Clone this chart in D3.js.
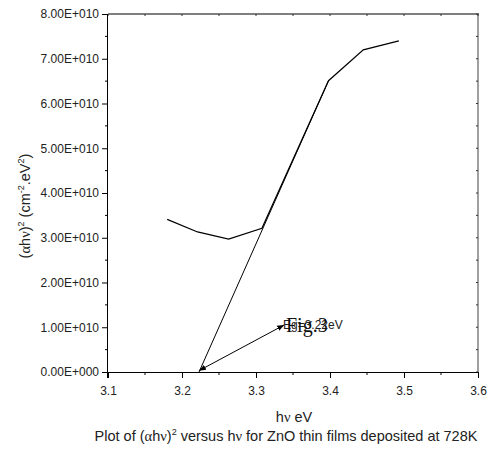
<!DOCTYPE html>
<html><head><meta charset="utf-8">
<script src="https://cdn.jsdelivr.net/npm/d3@7"></script>
<style>body{margin:0;background:#fff}svg{display:block}.tk text{font-size:12px;font-family:"Liberation Sans",Arial,sans-serif}</style>
</head><body><svg id="c" width="495" height="449" font-family="Liberation Sans, Arial, sans-serif"></svg>
<script>
const hv = [3.18, 3.221, 3.263, 3.308, 3.398, 3.445, 3.493];
const ahv2 = [3.41e10, 3.13e10, 2.97e10, 3.21e10, 6.51e10, 7.20e10, 7.40e10];
const tangentX = [3.223, 3.398];
const tangentY = [0, 6.51e10];
const arrowX = [3.223, 3.338];
const arrowY = [0.03e10, 1.05e10];
const xTicks = [3.1, 3.2, 3.3, 3.4, 3.5, 3.6];
const yTicks = [0, 1e10, 2e10, 3e10, 4e10, 5e10, 6e10, 7e10, 8e10];
const yTickLabels = ["0.00E+000","1.00E+010","2.00E+010","3.00E+010","4.00E+010","5.00E+010","6.00E+010","7.00E+010","8.00E+010"];

const svg = d3.select("#c");
const L=108, R=478, T=14, B=372;
const x = d3.scaleLinear().domain([3.1,3.6]).range([L,R]);
const y = d3.scaleLinear().domain([0,8e10]).range([B,T]);
const SERIF = "Liberation Serif, Times New Roman, serif";

// top and right frame
svg.append("line").attr("x1",L).attr("x2",R+1).attr("y1",T).attr("y2",T).attr("stroke","#555").attr("stroke-width",1.6);
svg.append("line").attr("x1",R).attr("x2",R).attr("y1",T).attr("y2",B).attr("stroke","#777").attr("stroke-width",1.4);
const minorX = d3.range(3.15,3.6,0.1);
xTicks.concat(minorX).forEach(v=>{
  svg.append("line").attr("x1",x(v)).attr("x2",x(v)).attr("y1",T).attr("y2",T+2).attr("stroke","#333");
});
const minorY = d3.range(0.5e10,8e10,1e10);
yTicks.concat(minorY).forEach(v=>{
  svg.append("line").attr("x1",R).attr("x2",R-2).attr("y1",y(v)).attr("y2",y(v)).attr("stroke","#333");
});

// bottom axis
const gx = svg.append("g").attr("class","tk").attr("transform",`translate(0,${B})`)
  .call(d3.axisBottom(x).tickValues(xTicks).tickFormat(d3.format(".1f")).tickSizeOuter(0).tickSize(6).tickPadding(8));
gx.selectAll("text").attr("fill","#222");
gx.append("g").selectAll("line").data(minorX).join("line")
  .attr("x1",d=>x(d)).attr("x2",d=>x(d)).attr("y1",0).attr("y2",3).attr("stroke","#000");
gx.select(".domain").attr("d",`M${L-6},0.5H${R}`);

// left axis
const gy = svg.append("g").attr("class","tk").attr("transform",`translate(${L},0)`)
  .call(d3.axisLeft(y).tickValues(yTicks).tickFormat((d,i)=>yTickLabels[i]).tickSizeOuter(0).tickSize(6).tickPadding(3));
gy.selectAll("text").attr("fill","#222");
gy.append("g").selectAll("line").data(minorY).join("line")
  .attr("x1",0).attr("x2",-3).attr("y1",d=>y(d)).attr("y2",d=>y(d)).attr("stroke","#000");
gy.select(".domain").attr("d",`M-0.5,${T}V${B+6}`);

// data line
svg.append("path").datum(hv.map((d,i)=>[d,ahv2[i]]))
  .attr("d",d3.line().x(d=>x(d[0])).y(d=>y(d[1])))
  .attr("fill","none").attr("stroke","#000").attr("stroke-width",1.2);

// tangent line
svg.append("line").attr("x1",x(tangentX[0])).attr("y1",y(tangentY[0])).attr("x2",x(tangentX[1])).attr("y2",y(tangentY[1]))
  .attr("stroke","#000").attr("stroke-width",1);

// double arrow
const defs = svg.append("defs");
defs.append("marker").attr("id","ah").attr("viewBox","0 0 10 10").attr("refX",10).attr("refY",5)
  .attr("markerWidth",7).attr("markerHeight",7).attr("orient","auto-start-reverse").attr("markerUnits","userSpaceOnUse")
  .append("path").attr("d","M0,1L10,5L0,9Z").attr("fill","#000");
svg.append("line").attr("x1",x(arrowX[0])).attr("y1",y(arrowY[0])).attr("x2",x(arrowX[1])).attr("y2",y(arrowY[1]))
  .attr("stroke","#000").attr("stroke-width",1).attr("marker-start","url(#ah)").attr("marker-end","url(#ah)");

// annotations
svg.append("text").attr("x",283).attr("y",329).style("font-size","12px").attr("fill","#222").text("Eg=3.22eV");
svg.append("text").attr("x",286).attr("y",332).style("font-size","20px").style("font-family",SERIF).attr("fill","#111").text("Fig.3");

// axis titles
svg.append("text").attr("x",294).attr("y",422).attr("text-anchor","middle").style("font-size","14.5px").attr("fill","#222")
  .html(`h<tspan font-family="${SERIF}">ν</tspan> eV`);
svg.append("text").attr("x",286).attr("y",441).attr("text-anchor","middle").style("font-size","14.5px").attr("fill","#222")
  .html(`Plot of (<tspan font-family="${SERIF}">α</tspan>h<tspan font-family="${SERIF}">ν</tspan>)<tspan dy="-6" font-size="9">2</tspan><tspan dy="6"> versus h</tspan><tspan font-family="${SERIF}">ν</tspan> for ZnO thin films deposited at 728K`);
svg.append("text").attr("transform","translate(30,206) rotate(-90)").attr("text-anchor","middle").style("font-size","14.5px").attr("fill","#222")
  .html(`(<tspan font-family="${SERIF}">α</tspan>h<tspan font-family="${SERIF}">ν</tspan>)<tspan dy="-6" font-size="9">2</tspan><tspan dy="6"> (cm</tspan><tspan dy="-6" font-size="9">-2</tspan><tspan dy="6">.eV</tspan><tspan dy="-6" font-size="9">2</tspan><tspan dy="6">)</tspan>`);
</script></body></html>
